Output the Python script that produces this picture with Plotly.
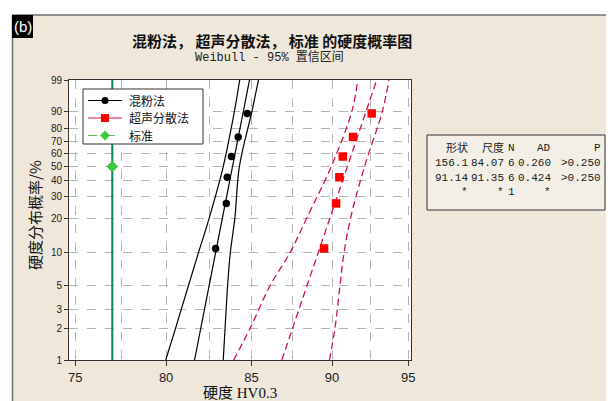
import numpy as np
import plotly.graph_objects as go

# ---------------- data ----------------
series_names = ["混粉法", "超声分散法", "标准"]
table_header = ["形状", "尺度", "N", "AD", "P"]
shape_vals = ["156.1", "91.14", "*"]
scale_vals = ["84.07", "91.35", "*"]
n_vals = ["6", "6", "1"]
ad_vals = ["0.260", "0.424", "*"]
p_vals = [">0.250", ">0.250", ""]

rank_pct = [10.9, 26.6, 42.2, 57.8, 73.4, 89.1]
hunfen = [82.86, 83.49, 83.55, 83.80, 84.20, 84.74]
chaosheng = [89.49, 90.26, 90.47, 90.69, 91.35, 92.57]

standard_value = [77.0]
standard_pct = [50]
standard_line_pct = [1, 99]

fit_pct = [1, 99]
hunfen_fit = [81.63, 84.88]
chaosheng_fit = [86.85, 92.90]

ci_pct = [1, 2, 5, 10, 20, 50, 90, 99]
hunfen_lo = [79.98, 80.54, 81.28, 81.86, 82.48, 83.31, 83.97, 84.29]
hunfen_hi = [83.31, 83.42, 83.57, 83.73, 84.00, 84.27, 85.02, 85.42]
chaosheng_lo = [83.93, 84.92, 86.13, 87.36, 88.39, 89.95, 91.27, 91.66]
chaosheng_hi = [89.83, 90.19, 90.51, 90.77, 91.19, 92.10, 93.27, 93.71]

y_ticks = [1, 2, 3, 5, 10, 20, 30, 40, 50, 60, 70, 80, 90, 99]
x_ticks = [75, 80, 85, 90, 95]
x_minor = [77.5, 82.5, 87.5, 92.5]
x_range = [74.67, 95.19]

# ---------------- layout helpers (page pixel coords) ----------------
OFF = 8                      # page body margin
W, H = 614 - OFF, 401 - OFF  # figure size
PL, PR, PT, PB = 69, 411, 80, 360  # plot area in page px


def px(x):
    return (x - PL) / (PR - PL)


def py(y):
    return (PB - y) / (PB - PT)


def wt(p):
    p = np.asarray(p, dtype=float) / 100.0
    return np.log(-np.log(1.0 - p))


BLACK = "#000000"
RED = "#D2143C"
GREEN_LINE = "#00875A"
GREEN_MK = "#3CC83C"
BG = "#EEE7DA"
CJK = "Noto Sans CJK SC"

fig = go.Figure()

# standard vertical line
fig.add_trace(go.Scatter(x=standard_value * 2, y=wt(standard_line_pct), mode="lines",
                         line=dict(color=GREEN_LINE, width=2), showlegend=False))
fig.add_trace(go.Scatter(x=standard_value, y=wt(standard_pct), mode="markers", name=series_names[2],
                         marker=dict(symbol="diamond", color=GREEN_MK, size=9), showlegend=False))

# 混粉法
for arr, pc in [(hunfen_lo, ci_pct), (hunfen_hi, ci_pct), (hunfen_fit, fit_pct)]:
    fig.add_trace(go.Scatter(x=arr, y=wt(pc), mode="lines", line=dict(color=BLACK, width=1.2),
                             line_shape="spline", showlegend=False))
fig.add_trace(go.Scatter(x=hunfen, y=wt(rank_pct), mode="markers", name=series_names[0],
                         marker=dict(symbol="circle", color=BLACK, size=7.5), showlegend=False))

# 超声分散法
for arr, pc in [(chaosheng_lo, ci_pct), (chaosheng_hi, ci_pct), (chaosheng_fit, fit_pct)]:
    fig.add_trace(go.Scatter(x=arr, y=wt(pc), mode="lines",
                             line=dict(color=RED, width=1.3, dash="7px,4px"),
                             line_shape="spline", showlegend=False))
fig.add_trace(go.Scatter(x=chaosheng, y=wt(rank_pct), mode="markers", name=series_names[1],
                         marker=dict(symbol="square", color="#FF0000", size=8.5), showlegend=False))

GRID = "#B4B4B4"
fig.update_xaxes(type="log", range=list(np.log10(x_range)), tickvals=x_ticks,
                 ticktext=[str(v) for v in x_ticks], showgrid=True, gridcolor=GRID,
                 griddash="dash", gridwidth=1, ticks="outside", ticklen=5, tickcolor="#333",
                 showline=True, linecolor="#333", linewidth=1, mirror=True, zeroline=False,
                 tickfont=dict(family="Liberation Sans", size=13, color="#222"),
                 minor=dict(tickvals=x_minor, showgrid=True, gridcolor=GRID, griddash="dash",
                            gridwidth=1, ticks=""))
fig.update_yaxes(range=[float(wt(1)), float(wt(99))], tickvals=list(wt(y_ticks)),
                 ticktext=[str(v) for v in y_ticks], showgrid=True, gridcolor=GRID,
                 griddash="dash", gridwidth=1, ticks="outside", ticklen=4, tickcolor="#333",
                 showline=True, linecolor="#333", linewidth=1, mirror=True, zeroline=False,
                 tickfont=dict(family="Liberation Sans Narrow, Liberation Sans", size=10, color="#222"))


def P(x, y):
    return f"{px(x):.5f},{py(y):.5f}"


shapes = [
    dict(type="rect", xref="paper", yref="paper", x0=px(0), x1=px(12), y0=py(401), y1=py(0),
         fillcolor="white", line=dict(width=0), layer="below"),
    dict(type="rect", xref="paper", yref="paper", x0=px(0), x1=px(614), y0=py(15), y1=py(0),
         fillcolor="white", line=dict(width=0), layer="below"),
    dict(type="line", xref="paper", yref="paper", x0=px(12), x1=px(614), y0=py(15), y1=py(15),
         line=dict(color="#6E6E6E", width=1.5)),
    dict(type="line", xref="paper", yref="paper", x0=px(12.5), x1=px(12.5), y0=py(15), y1=py(401),
         line=dict(color="#6E6E6E", width=1.5)),
    dict(type="rect", xref="paper", yref="paper", x0=px(12), x1=px(33), y0=py(38), y1=py(15),
         fillcolor="black", line=dict(width=0)),
    dict(type="rect", xref="paper", yref="paper", x0=px(427), x1=px(605), y0=py(210), y1=py(135),
         fillcolor="#F4EFE6", line=dict(color="#333", width=1)),
    # legend box
    dict(type="rect", xref="paper", yref="paper", x0=px(83), x1=px(203), y0=py(144), y1=py(89),
         fillcolor="white", line=dict(color="#333", width=1), layer="above"),
]

# legend entries (symbols drawn in pixel positions)
leg_rows = [100.5, 118, 135.5]
lx0, lx1, lmx, ltx = 88, 122, 105, 127
leg_styles = [
    dict(color=BLACK, dash="solid"),
    dict(color=RED, dash="solid"),
    dict(color="#5DBB5D", dash="dash"),
]
for yv, st in zip(leg_rows, leg_styles):
    shapes.append(dict(type="line", xref="paper", yref="paper", x0=px(lx0), x1=px(lx1),
                       y0=py(yv), y1=py(yv), line=dict(color=st["color"], width=1.2, dash=st["dash"]),
                       layer="above"))
shapes.append(dict(type="circle", xref="paper", yref="paper", x0=px(lmx - 3.5), x1=px(lmx + 3.5),
                   y0=py(leg_rows[0] + 3.5), y1=py(leg_rows[0] - 3.5),
                   fillcolor=BLACK, line=dict(width=0), layer="above"))
shapes.append(dict(type="rect", xref="paper", yref="paper", x0=px(lmx - 4), x1=px(lmx + 4),
                   y0=py(leg_rows[1] + 4), y1=py(leg_rows[1] - 4),
                   fillcolor="#FF0000", line=dict(width=0), layer="above"))
yd = leg_rows[2]
shapes.append(dict(type="path", xref="paper", yref="paper",
                   path=f"M{P(lmx, yd - 5)} L{P(lmx + 5, yd)} L{P(lmx, yd + 5)} L{P(lmx - 5, yd)} Z",
                   fillcolor=GREEN_MK, line=dict(width=0), layer="above"))

ann = [
    dict(text="(b)", x=px(22.5), y=py(26), font=dict(family="Liberation Sans", size=15, color="white")),
    dict(text="<b>混粉法， 超声分散法， 标准 的硬度概率图</b>", x=px(272), y=py(40),
         font=dict(family=CJK, size=15, color="#111")),
    dict(text="Weibull - 95% 置信区间", x=px(269), y=py(57),
         font=dict(family="Liberation Mono, " + CJK, size=12, color="#222")),
    dict(text="硬度分布概率/%", x=px(34), y=py(215), textangle=-90,
         font=dict(family=CJK, size=15, color="#111")),
    dict(text="硬度 HV0.3", x=px(240), y=py(393),
         font=dict(family="Liberation Serif, " + CJK, size=15, color="#111")),
]
for name, yv in zip(series_names, leg_rows):
    ann.append(dict(text=name, x=px(ltx), y=py(yv), xanchor="left",
                    font=dict(family=CJK, size=12, color="#111")))

col_right = [470, 506, 517, 553, 603]
row_y = [148, 163, 178, 192]
rows = [table_header,
        [shape_vals[0], scale_vals[0], n_vals[0], ad_vals[0], p_vals[0]],
        [shape_vals[1], scale_vals[1], n_vals[1], ad_vals[1], p_vals[1]],
        [shape_vals[2], scale_vals[2], n_vals[2], ad_vals[2], p_vals[2]]]
for r, yv in zip(rows, row_y):
    for c, xr in zip(r, col_right):
        if c == "":
            continue
        ann.append(dict(text=c, x=px(xr), y=py(yv), xanchor="right",
                        font=dict(family="Liberation Mono, " + CJK, size=11, color="#222")))

for a in ann:
    a.update(xref="paper", yref="paper", showarrow=False)
    a.setdefault("xanchor", "center")
    a.setdefault("yanchor", "middle")

fig.update_layout(
    width=W, height=H,
    margin=dict(l=PL - OFF, r=W - (PR - OFF), t=PT - OFF, b=H - (PB - OFF), pad=0),
    paper_bgcolor=BG, plot_bgcolor="white",
    shapes=shapes, annotations=ann,
    showlegend=False,
)

fig.write_html("out.html")
